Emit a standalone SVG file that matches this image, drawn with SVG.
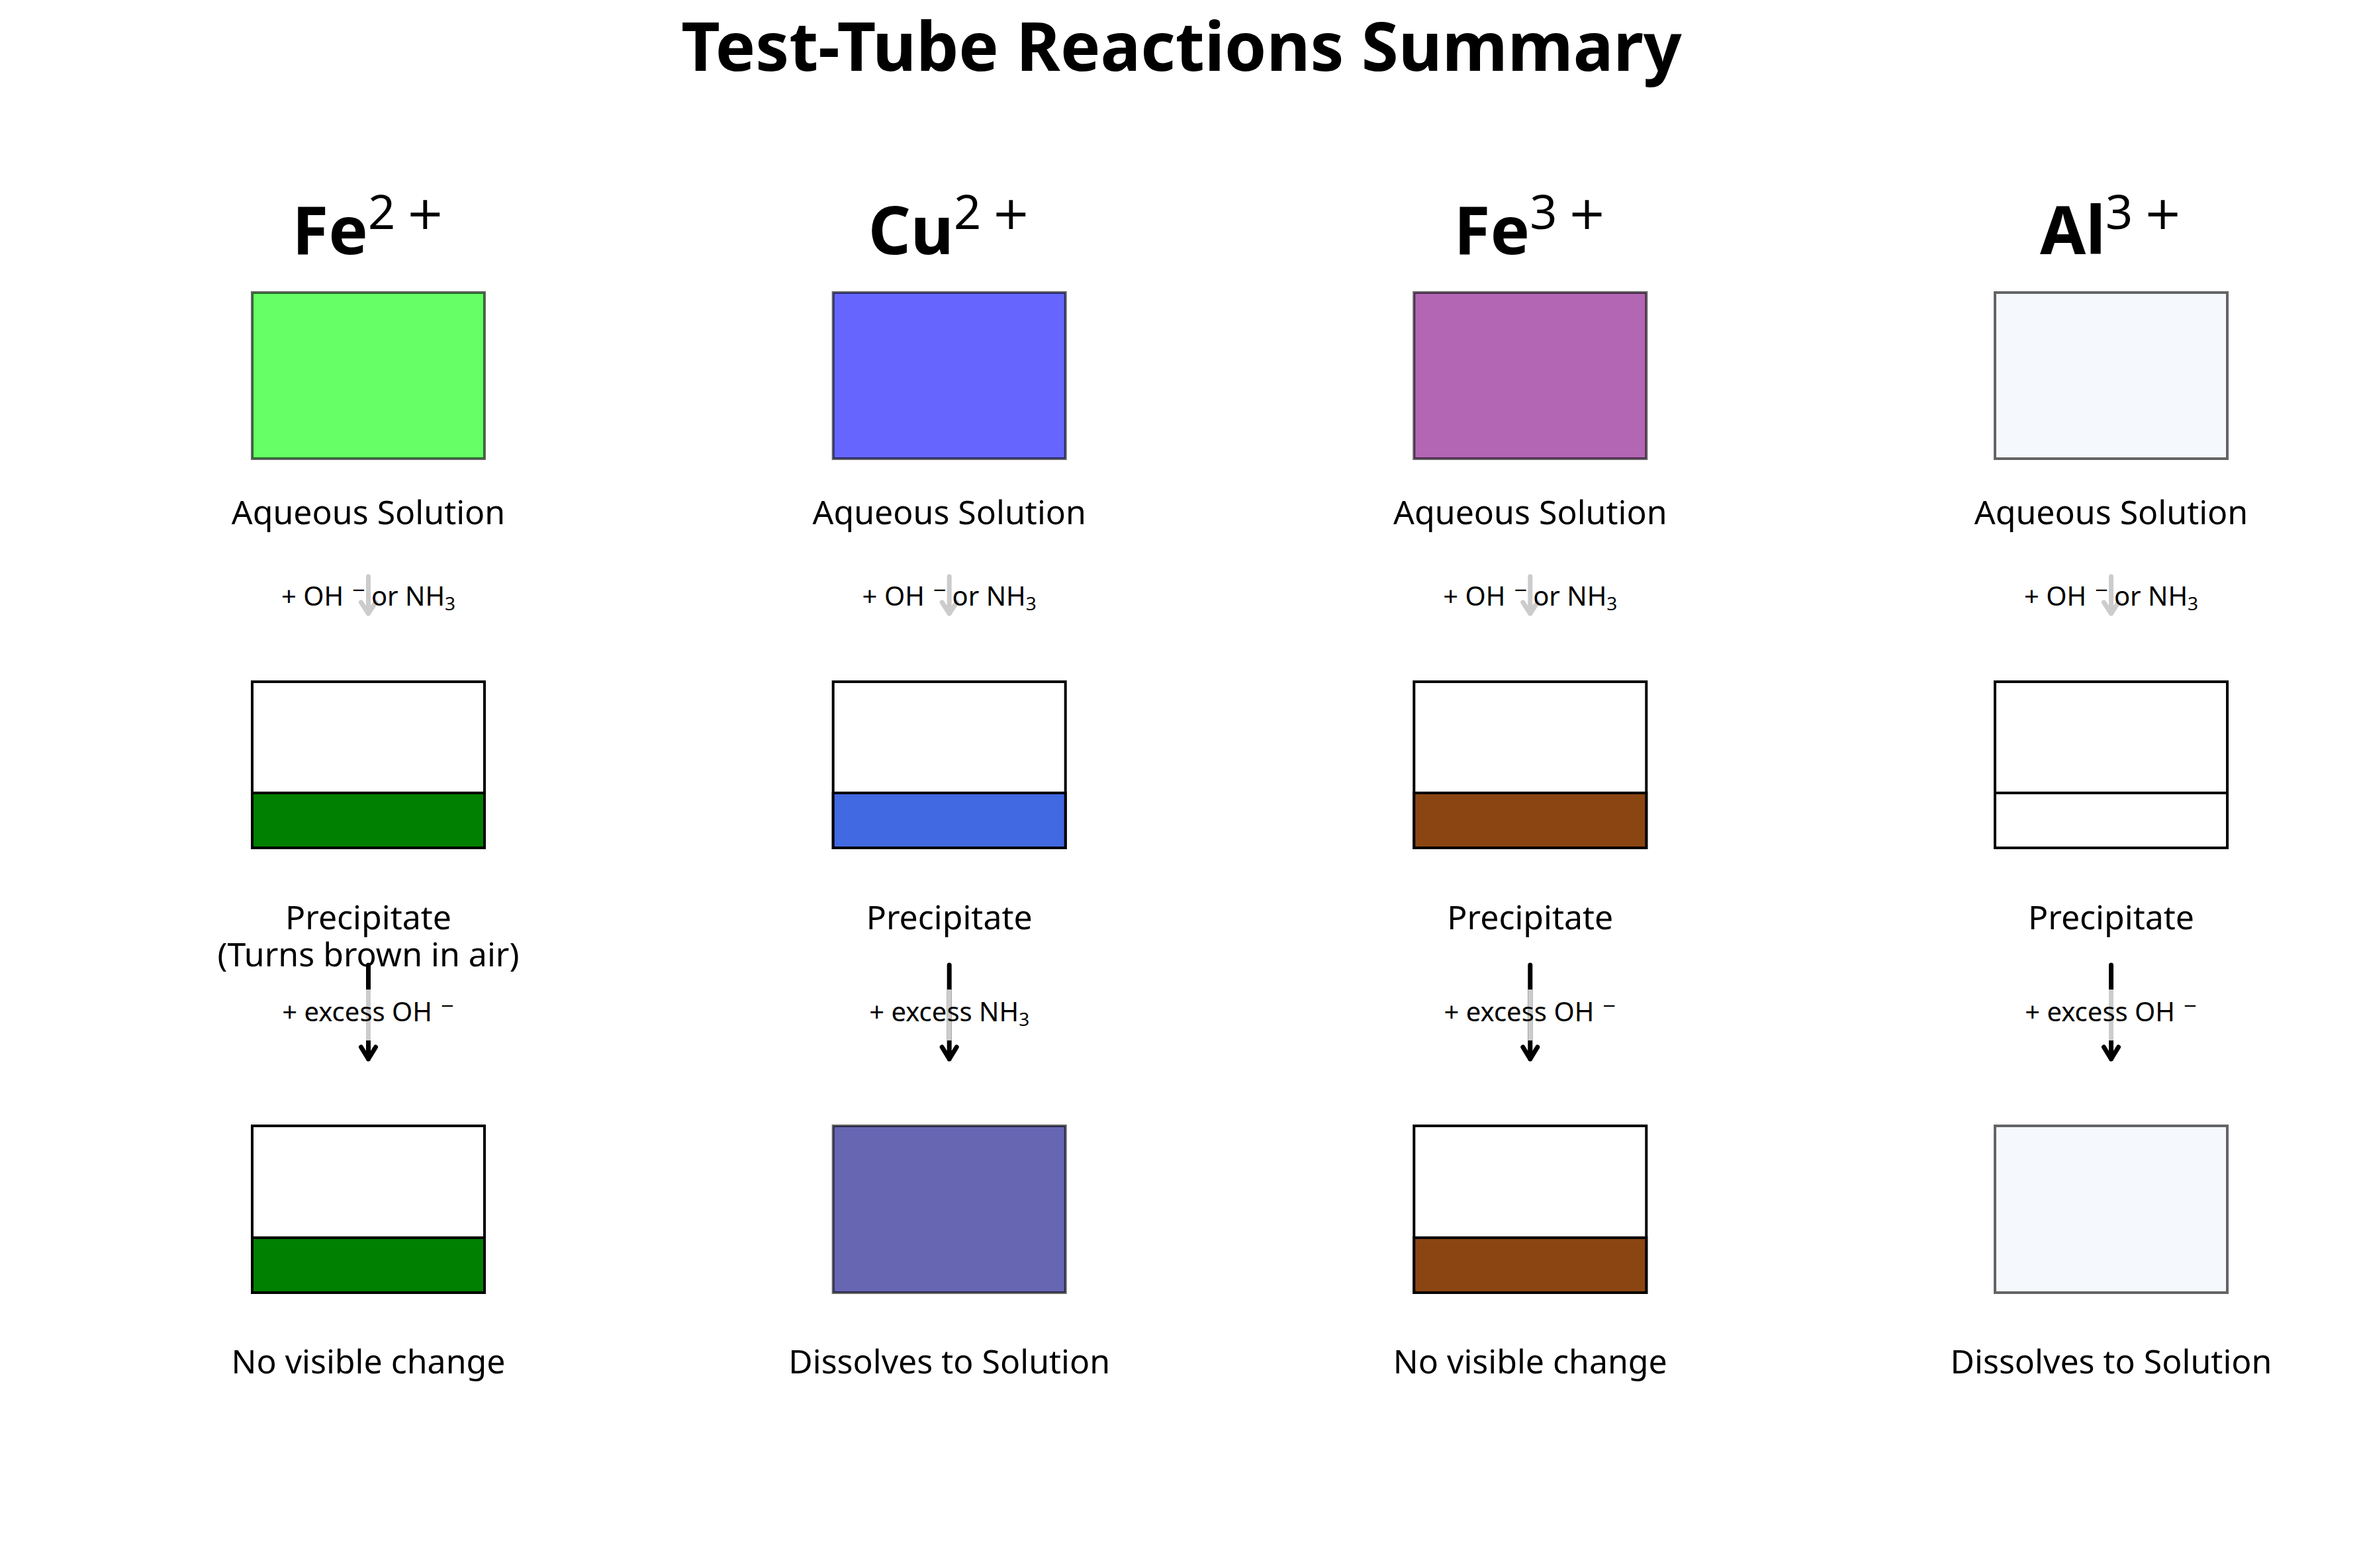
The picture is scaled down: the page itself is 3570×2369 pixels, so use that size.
<svg xmlns="http://www.w3.org/2000/svg" width="3570" height="2369" viewBox="0 0 3570 2369">
<style>
text{font-family:"Noto Sans","Open Sans","Liberation Sans",sans-serif;fill:#000}
.title{font-size:101.5px;font-weight:bold;text-anchor:middle}
.ion{font-size:100px;text-anchor:middle}
.lbl{font-size:50px;text-anchor:middle}
.step{font-size:40px;text-anchor:middle}
.sym{font-family:"DejaVu Sans",sans-serif}
.sol{stroke:#000;stroke-opacity:0.6;stroke-width:4}
.tube{fill:#fff;stroke:#000;stroke-width:4}
.ppt{stroke:#000;stroke-width:4}
.garrow{fill:none;stroke:#cccccc;stroke-width:7;stroke-linecap:round;stroke-linejoin:round}
.barrow{fill:none;stroke:#000;stroke-width:7;stroke-linecap:round;stroke-linejoin:round}
.gseg{stroke:#cccccc;stroke-width:7;stroke-linecap:butt}
</style>
<rect width="3570" height="2369" fill="#fff"/>
<text class="title" x="1785" y="107">Test-Tube Reactions Summary</text>

<g id="connectors">
  <g id="c1">
    <path class="garrow" d="M556.5,871 L556.5,927 M545.5,910 L556.5,927 L567.5,910"/>
    <path class="barrow" d="M556.5,1458 L556.5,1600 M545.5,1582 L556.5,1600 L567.5,1582"/>
    <line class="gseg" x1="556.5" y1="1495" x2="556.5" y2="1572"/>
  </g>
  <g id="c2">
    <path class="garrow" d="M1434.2,871 L1434.2,927 M1423.2,910 L1434.2,927 L1445.2,910"/>
    <path class="barrow" d="M1434.2,1458 L1434.2,1600 M1423.2,1582 L1434.2,1600 L1445.2,1582"/>
    <line class="gseg" x1="1434.2" y1="1495" x2="1434.2" y2="1572"/>
  </g>
  <g id="c3">
    <path class="garrow" d="M2311.8,871 L2311.8,927 M2300.8,910 L2311.8,927 L2322.8,910"/>
    <path class="barrow" d="M2311.8,1458 L2311.8,1600 M2300.8,1582 L2311.8,1600 L2322.8,1582"/>
    <line class="gseg" x1="2311.8" y1="1495" x2="2311.8" y2="1572"/>
  </g>
  <g id="c4">
    <path class="garrow" d="M3189.5,871 L3189.5,927 M3178.5,910 L3189.5,927 L3200.5,910"/>
    <path class="barrow" d="M3189.5,1458 L3189.5,1600 M3178.5,1582 L3189.5,1600 L3200.5,1582"/>
    <line class="gseg" x1="3189.5" y1="1495" x2="3189.5" y2="1572"/>
  </g>
</g>

<!-- Column 1: Fe2+ -->
<g id="fe2">
  <text class="ion" x="556.5" y="384"><tspan font-weight="bold">Fe</tspan><tspan font-size="72" dy="-38">2</tspan><tspan class="sym" font-size="70" dx="16">+</tspan></text>
  <g id="fe2-solution"><rect class="sol" x="381" y="442" width="351" height="251" fill="#66ff66"/></g>
  <text class="lbl" x="556.5" y="792">Aqueous Solution</text>
  <text class="step" x="556.5" y="915">+ OH<tspan class="sym" font-size="26" dx="12" dy="-15">−</tspan><tspan dx="8" dy="15">or NH</tspan><tspan font-size="28" dy="7">3</tspan></text>
  <g id="fe2-precipitate"><rect class="tube" x="381" y="1030" width="351" height="251"/><rect class="ppt" x="381" y="1198" width="351" height="83" fill="#008000"/></g>
  <text class="lbl" x="556.5" y="1404">Precipitate</text>
  <text class="lbl" x="556.5" y="1460">(Turns brown in air)</text>
  <text class="step" x="556.5" y="1543">+ excess OH<tspan class="sym" font-size="26" dx="12" dy="-15">−</tspan></text>
  <g id="fe2-excess"><rect class="tube" x="381" y="1701" width="351" height="252"/><rect class="ppt" x="381" y="1870" width="351" height="83" fill="#008000"/></g>
  <text class="lbl" x="556.5" y="2075">No visible change</text>
</g>

<!-- Column 2: Cu2+ -->
<g id="cu2">
  <text class="ion" x="1434.2" y="384"><tspan font-weight="bold">Cu</tspan><tspan font-size="72" dy="-38">2</tspan><tspan class="sym" font-size="70" dx="16">+</tspan></text>
  <g id="cu2-solution"><rect class="sol" x="1258.7" y="442" width="351" height="251" fill="#6666ff"/></g>
  <text class="lbl" x="1434.2" y="792">Aqueous Solution</text>
  <text class="step" x="1434.2" y="915">+ OH<tspan class="sym" font-size="26" dx="12" dy="-15">−</tspan><tspan dx="8" dy="15">or NH</tspan><tspan font-size="28" dy="7">3</tspan></text>
  <g id="cu2-precipitate"><rect class="tube" x="1258.7" y="1030" width="351" height="251"/><rect class="ppt" x="1258.7" y="1198" width="351" height="83" fill="#4169e1"/></g>
  <text class="lbl" x="1434.2" y="1404">Precipitate</text>
  <text class="step" x="1434.2" y="1543">+ excess NH<tspan font-size="28" dy="7">3</tspan></text>
  <g id="cu2-excess"><rect class="sol" x="1258.7" y="1701" width="351" height="252" fill="#6666b3"/></g>
  <text class="lbl" x="1434.2" y="2075">Dissolves to Solution</text>
</g>

<!-- Column 3: Fe3+ -->
<g id="fe3">
  <text class="ion" x="2311.8" y="384"><tspan font-weight="bold">Fe</tspan><tspan font-size="72" dy="-38">3</tspan><tspan class="sym" font-size="70" dx="16">+</tspan></text>
  <g id="fe3-solution"><rect class="sol" x="2136.3" y="442" width="351" height="251" fill="#b366b3"/></g>
  <text class="lbl" x="2311.8" y="792">Aqueous Solution</text>
  <text class="step" x="2311.8" y="915">+ OH<tspan class="sym" font-size="26" dx="12" dy="-15">−</tspan><tspan dx="8" dy="15">or NH</tspan><tspan font-size="28" dy="7">3</tspan></text>
  <g id="fe3-precipitate"><rect class="tube" x="2136.3" y="1030" width="351" height="251"/><rect class="ppt" x="2136.3" y="1198" width="351" height="83" fill="#8b4513"/></g>
  <text class="lbl" x="2311.8" y="1404">Precipitate</text>
  <text class="step" x="2311.8" y="1543">+ excess OH<tspan class="sym" font-size="26" dx="12" dy="-15">−</tspan></text>
  <g id="fe3-excess"><rect class="tube" x="2136.3" y="1701" width="351" height="252"/><rect class="ppt" x="2136.3" y="1870" width="351" height="83" fill="#8b4513"/></g>
  <text class="lbl" x="2311.8" y="2075">No visible change</text>
</g>

<!-- Column 4: Al3+ -->
<g id="al3">
  <text class="ion" x="3189.5" y="384"><tspan font-weight="bold">Al</tspan><tspan font-size="72" dy="-38">3</tspan><tspan class="sym" font-size="70" dx="16">+</tspan></text>
  <g id="al3-solution"><rect class="sol" x="3014" y="442" width="351" height="251" fill="#f5f8fd"/></g>
  <text class="lbl" x="3189.5" y="792">Aqueous Solution</text>
  <text class="step" x="3189.5" y="915">+ OH<tspan class="sym" font-size="26" dx="12" dy="-15">−</tspan><tspan dx="8" dy="15">or NH</tspan><tspan font-size="28" dy="7">3</tspan></text>
  <g id="al3-precipitate"><rect class="tube" x="3014" y="1030" width="351" height="251"/><rect class="ppt" x="3014" y="1198" width="351" height="83" fill="#ffffff"/></g>
  <text class="lbl" x="3189.5" y="1404">Precipitate</text>
  <text class="step" x="3189.5" y="1543">+ excess OH<tspan class="sym" font-size="26" dx="12" dy="-15">−</tspan></text>
  <g id="al3-excess"><rect class="sol" x="3014" y="1701" width="351" height="252" fill="#f5f8fd"/></g>
  <text class="lbl" x="3189.5" y="2075">Dissolves to Solution</text>
</g>
</svg>
